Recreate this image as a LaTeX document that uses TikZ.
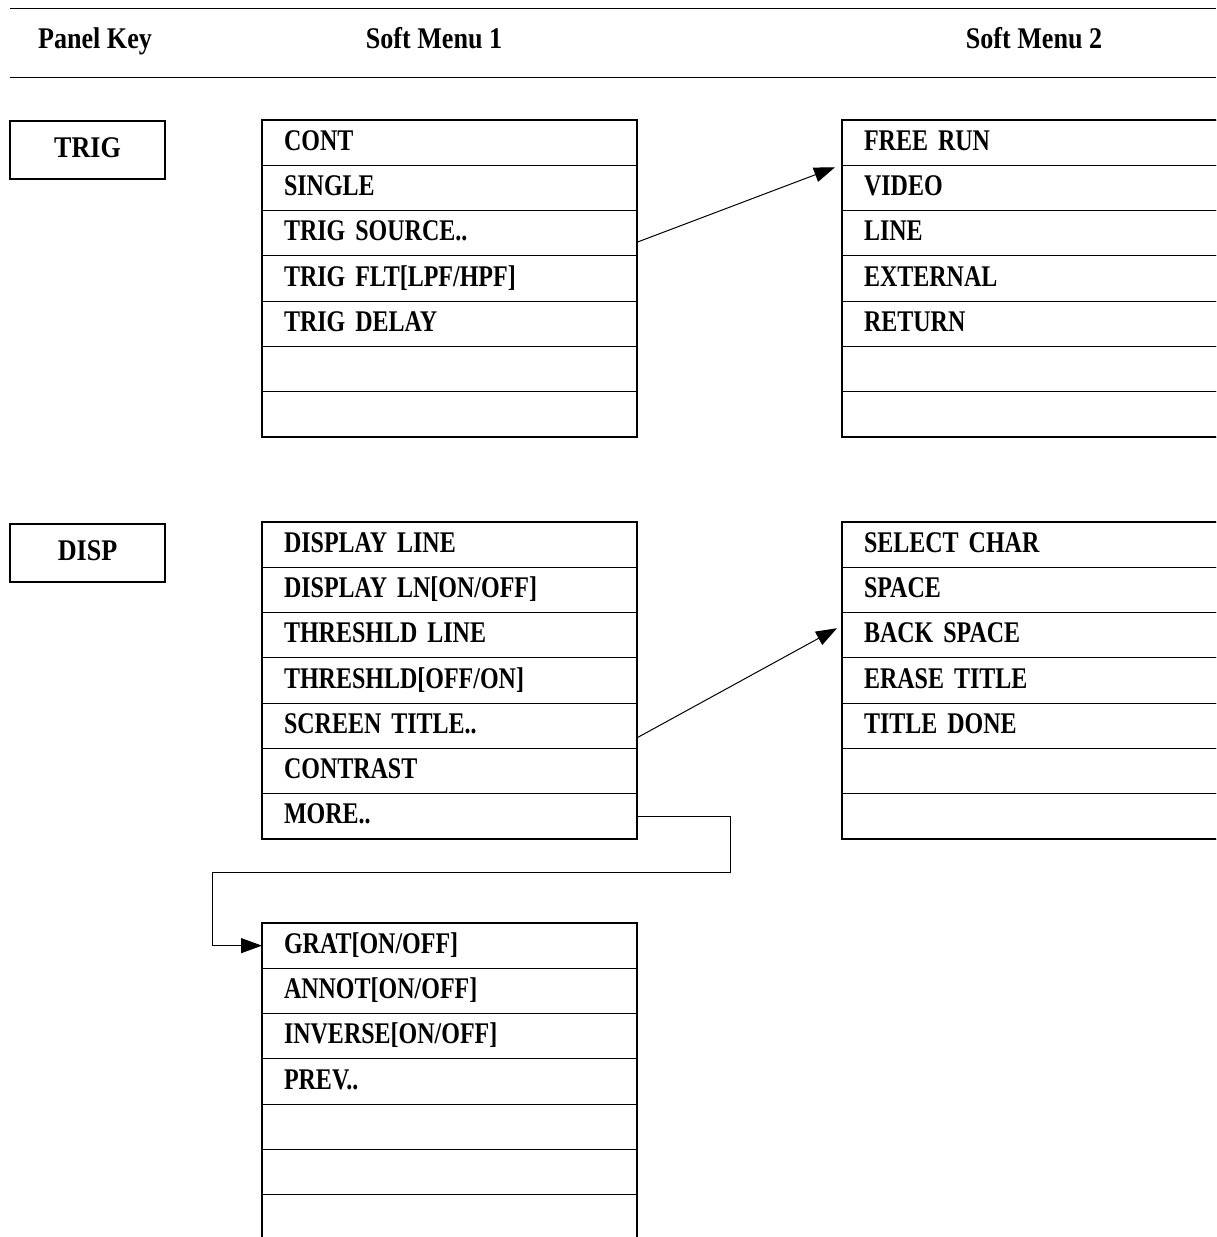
\documentclass[tikz,border=0pt]{standalone}
\usepackage{fontspec}
\setmainfont{Liberation Serif}
\newfontfamily\itemfont{Liberation Serif}[FakeStretch=0.8,WordSpace=0.6]
\newfontfamily\headfont{Liberation Serif}[FakeStretch=0.87]
\usetikzlibrary{arrows.meta}

\begin{document}
\begin{tikzpicture}[x=0.5pt,y=-0.5pt,
	menurow/.style={draw, line width=0.5pt, anchor=north west, outer sep=0pt, minimum height=22.65pt, text width=165.5pt, text height=11pt, text depth=3.5pt, inner xsep=11pt, inner ysep=0pt, align=left, font=\itemfont\bfseries\fontsize{15pt}{15pt}\selectfont},
	widerow/.style={menurow, text width=176pt},
	keybox/.style={draw, line width=1pt, minimum width=77.5pt, minimum height=29pt, text height=10.5pt, text depth=3.5pt, font=\headfont\bfseries\fontsize{15pt}{15pt}\selectfont},
	head/.style={text height=10.5pt, text depth=3.5pt, font=\headfont\bfseries\fontsize{15pt}{15pt}\selectfont},
	link/.style={line width=0.5pt, -{Triangle[length=10.5pt,width=7.5pt]}}]
		\path[use as bounding box] (0,0) rectangle (1216,1237);
		\clip (0,0) rectangle (1216,1237);
		% header
		\draw[line width=0.5pt] (10,8) -- (1216,8);
		\draw[line width=0.5pt] (10,77) -- (1216,77);
		\node[head] (hkey) at (95,41) {Panel Key};
		\node[head] (hmenu1) at (434,41) {Soft Menu 1};
		\node[head] (hmenu2) at (1034,41) {Soft Menu 2};
		% panel keys
		\node[keybox] (trig) at (87.5,150) {TRIG};
		\node[keybox] (disp) at (87.5,553) {DISP};
		% TRIG menus
		\foreach \t [count=\i] in {CONT,SINGLE,TRIG SOURCE..,{TRIG FLT[LPF/HPF]},TRIG DELAY,{},{}}
			\node[menurow] (trigA-\i) at (262,120+45.29*\i-45.29) {\t};
		\draw[line width=1pt] (trigA-1.north west) rectangle (trigA-7.south east);
		\foreach \t [count=\i] in {FREE RUN,VIDEO,LINE,EXTERNAL,RETURN,{},{}}
			\node[widerow] (trigB-\i) at (842,120+45.29*\i-45.29) {\t};
		\draw[line width=1pt] (trigB-1.north west) rectangle (trigB-7.south east);
		% DISP menus
		\foreach \t [count=\i] in {DISPLAY LINE,{DISPLAY LN[ON/OFF]},THRESHLD LINE,{THRESHLD[OFF/ON]},SCREEN TITLE..,CONTRAST,MORE..}
			\node[menurow] (dispA-\i) at (262,522+45.29*\i-45.29) {\t};
		\draw[line width=1pt] (dispA-1.north west) rectangle (dispA-7.south east);
		\foreach \t [count=\i] in {SELECT CHAR,SPACE,BACK SPACE,ERASE TITLE,TITLE DONE,{},{}}
			\node[widerow] (dispB-\i) at (842,522+45.29*\i-45.29) {\t};
		\draw[line width=1pt] (dispB-1.north west) rectangle (dispB-7.south east);
		\foreach \t [count=\i] in {{GRAT[ON/OFF]},{ANNOT[ON/OFF]},{INVERSE[ON/OFF]},PREV..,{},{},{}}
			\node[menurow] (more-\i) at (262,923+45.29*\i-45.29) {\t};
		\draw[line width=1pt] (more-1.north west) rectangle (more-7.south east);
		% links
		\draw[link] ([yshift=-4.5pt]trigA-3.east) -- ([xshift=-3.5pt,yshift=-1pt]trigB-2.north west);
		\draw[link] ([yshift=-6pt]dispA-5.east) -- ([xshift=-2.5pt,yshift=3.5pt]dispB-3.west);
		\coordinate (bendR) at (730,872);
		\coordinate (bendL) at (212,872);
		\draw[link] (dispA-7.east) -| (bendR) -- (bendL) |- (more-1.west);
\end{tikzpicture}
\end{document}
